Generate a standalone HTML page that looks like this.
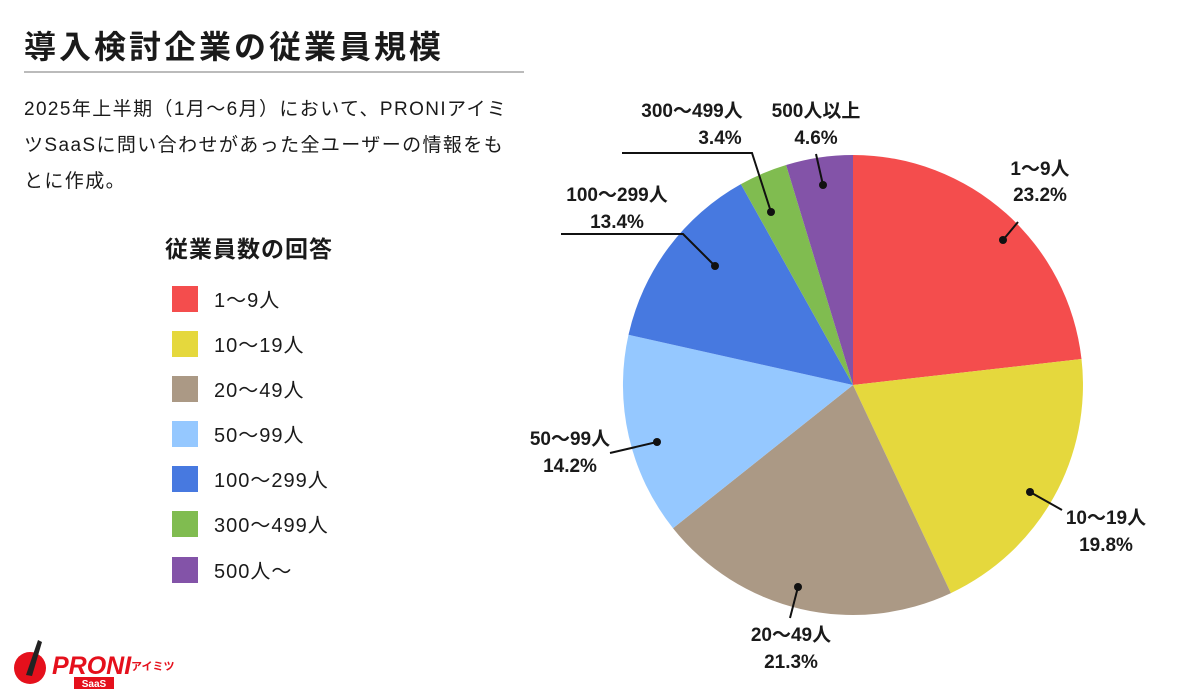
<!DOCTYPE html><html><head><meta charset="utf-8"><style>
body{margin:0;width:1200px;height:700px;background:#fff;font-family:"Liberation Sans","Noto Sans CJK JP",sans-serif;color:#1a1a1a;position:relative;overflow:hidden}
.t{position:absolute;left:24px;top:22px;font-size:32px;font-weight:bold;letter-spacing:3px}
.hr{position:absolute;left:24px;top:71px;width:500px;height:2px;background:#bbb}
.d{position:absolute;left:24px;top:92px;width:540px;font-size:19px;line-height:36px;white-space:nowrap;letter-spacing:1.4px}
.lh{position:absolute;left:165px;top:230px;font-size:23px;font-weight:bold;letter-spacing:1px}
.lg{position:absolute;left:172px;font-size:20px;display:flex;align-items:center;letter-spacing:1px}
.lg i{display:inline-block;width:26px;height:26px;margin-right:16px}
</style></head><body>
<div class="t">導入検討企業の従業員規模</div><div class="hr"></div>
<div class="d">2025年上半期（1月～6月）において、PRONIアイミ<br>ツSaaSに問い合わせがあった全ユーザーの情報をも<br>とに作成。</div>
<div class="lh">従業員数の回答</div>
<div class="lg" style="top:284px"><i style="background:#f44d4d"></i>1～9人</div>
<div class="lg" style="top:329px"><i style="background:#e5d83d"></i>10～19人</div>
<div class="lg" style="top:374px"><i style="background:#ab9985"></i>20～49人</div>
<div class="lg" style="top:419px"><i style="background:#95c8ff"></i>50～99人</div>
<div class="lg" style="top:464px"><i style="background:#4779e0"></i>100～299人</div>
<div class="lg" style="top:509px"><i style="background:#80bc50"></i>300～499人</div>
<div class="lg" style="top:555px"><i style="background:#8353a8"></i>500人～</div>
<svg width="1200" height="700" style="position:absolute;left:0;top:0">
<path d="M853 385 L853 155 A230 230 0 0 1 1081.5 359 Z" fill="#f44d4d"/>
<path d="M853 385 L1081.5 359 A230 230 0 0 1 950.9 593.1 Z" fill="#e5d83d"/>
<path d="M853 385 L950.9 593.1 A230 230 0 0 1 673 528.2 Z" fill="#ab9985"/>
<path d="M853 385 L673 528.2 A230 230 0 0 1 628.5 334.8 Z" fill="#95c8ff"/>
<path d="M853 385 L628.5 334.8 A230 230 0 0 1 740.9 184.1 Z" fill="#4779e0"/>
<path d="M853 385 L740.9 184.1 A230 230 0 0 1 786.1 165 Z" fill="#80bc50"/>
<path d="M853 385 L786.1 165 A230 230 0 0 1 853 155 Z" fill="#8353a8"/>
<g stroke="#111" stroke-width="2" fill="none">
<line x1="1003" y1="240" x2="1018" y2="222"/>
<line x1="1030" y1="492" x2="1062" y2="510"/>
<line x1="798" y1="587" x2="790" y2="618"/>
<line x1="657" y1="442" x2="610" y2="453"/>
<polyline points="715,266 683,234 561,234"/>
<polyline points="771,212 752,153 622,153"/>
<line x1="823" y1="185" x2="816" y2="154"/>
</g>
<g fill="#111"><circle cx="1003" cy="240" r="4"/><circle cx="1030" cy="492" r="4"/><circle cx="798" cy="587" r="4"/><circle cx="657" cy="442" r="4"/><circle cx="715" cy="266" r="4"/><circle cx="771" cy="212" r="4"/><circle cx="823" cy="185" r="4"/></g>
<g font-family="Liberation Sans,Noto Sans CJK JP,sans-serif" font-size="19" font-weight="bold" fill="#1a1a1a" text-anchor="middle">
<text x="1040" y="175">1～9人</text><text x="1040" y="201">23.2%</text>
<text x="1106" y="524">10～19人</text><text x="1106" y="551">19.8%</text>
<text x="791" y="641">20～49人</text><text x="791" y="668">21.3%</text>
<text x="570" y="445">50～99人</text><text x="570" y="472">14.2%</text>
<text x="617" y="201">100～299人</text><text x="617" y="228">13.4%</text>
<text x="692" y="117">300～499人</text><text x="720" y="144">3.4%</text>
<text x="816" y="117">500人以上</text><text x="816" y="144">4.6%</text>
</g>
<circle cx="30" cy="668" r="16" fill="#e5101c"/>
<path d="M26 675 L38 640 L42 642 L32 676 Z" fill="#222"/>
<text x="52" y="674" font-family="Liberation Sans,sans-serif" font-size="25" font-weight="bold" font-style="italic" fill="#e5101c">PRONI</text>
<text x="131" y="670" font-family="Noto Sans CJK JP,sans-serif" font-size="11" font-weight="bold" fill="#e5101c">アイミツ</text>
<rect x="74" y="677" width="40" height="12" fill="#e5101c"/>
<text x="94" y="687" font-family="Liberation Sans,sans-serif" font-size="10" font-weight="bold" fill="#fff" text-anchor="middle">SaaS</text>
</svg>
</body></html>
